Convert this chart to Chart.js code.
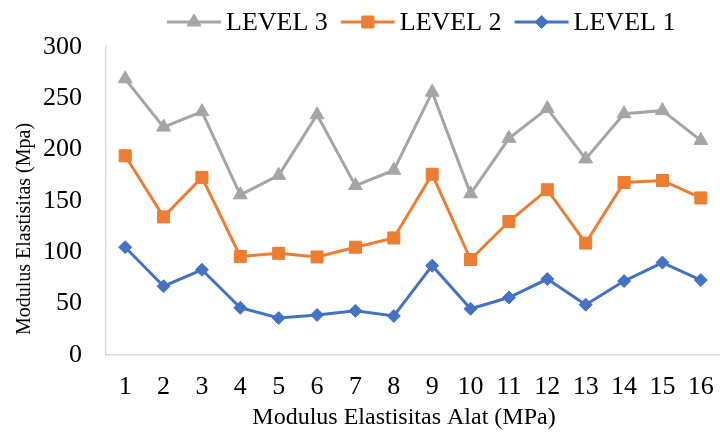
<!DOCTYPE html>
<html>
<head>
<meta charset="utf-8">
<script src="https://cdn.jsdelivr.net/npm/chart.js@4/dist/chart.umd.min.js"></script>
<style>
  html, body { margin: 0; padding: 0; background: #ffffff; }
  #wrap { width: 720px; height: 432px; position: relative; }
</style>
</head>
<body>
<div id="wrap"><canvas id="chart"></canvas></div>
<script>
// Test points along the x axis
const categories = ['1', '2', '3', '4', '5', '6', '7', '8', '9', '10', '11', '12', '13', '14', '15', '16'];

// Modulus values per level (MPa)
const level3 = [269, 222, 237, 156, 175, 234, 165, 180, 256, 157, 211, 240, 191, 235, 238, 209];
const level2 = [194, 134.5, 173, 96, 99, 95.5, 105, 114, 176, 93, 130, 161, 109, 168, 170, 153];
const level1 = [105, 67, 83, 46, 36, 39, 43, 38, 87, 45, 56, 74, 49, 72, 90, 73];

// Y axis tick values
const yTicks = [0, 50, 100, 150, 200, 250, 300];

const seriesNames = ['LEVEL 3', 'LEVEL 2', 'LEVEL 1'];
const xTitle = 'Modulus Elastisitas Alat (MPa)';
const yTitle = 'Modulus Elastisitas (Mpa)';

const SERIF = '"Liberation Serif", "Times New Roman", serif';
const colors = { l3: '#A5A5A5', l2: '#ED7D31', l1: '#4472C4' };

function lineSet(label, data, color, style, radius) {
  return {
    label, data,
    borderColor: color,
    backgroundColor: color,
    borderWidth: 3,
    pointStyle: style,
    pointRadius: radius,
    pointHoverRadius: radius,
    pointBorderWidth: 1,
    pointBorderColor: color,
    pointBackgroundColor: color,
    tension: 0,
    fill: false
  };
}

const datasets = [
  lineSet(seriesNames[0], level3, colors.l3, 'triangle', 8),
  lineSet(seriesNames[1], level2, colors.l2, 'rect', 8.5),
  lineSet(seriesNames[2], level1, colors.l1, 'rectRot', 6.5)
];

// Legend row and both axis titles, drawn on the canvas
const extrasPlugin = {
  id: 'extras',
  afterDraw(chart) {
    const ctx = chart.ctx;
    ctx.save();
    // legend
    ctx.font = '26px ' + SERIF;
    ctx.textBaseline = 'middle';
    ctx.textAlign = 'left';
    let x = 167;
    const y = 22;
    chart.data.datasets.forEach(ds => {
      ctx.strokeStyle = ds.borderColor;
      ctx.lineWidth = 3;
      ctx.beginPath();
      ctx.moveTo(x, y);
      ctx.lineTo(x + 54, y);
      ctx.stroke();
      ctx.fillStyle = ds.pointBackgroundColor;
      ctx.lineWidth = 1;
      Chart.helpers.drawPoint(ctx, {
        pointStyle: ds.pointStyle,
        radius: ds.pointRadius,
        borderWidth: 1,
        rotation: 0
      }, x + 27, y);
      ctx.fillStyle = '#000000';
      ctx.fillText(ds.label, x + 59, y + 1);
      x += 59 + ctx.measureText(ds.label).width + 13;
    });
    // horizontal axis title
    ctx.fillStyle = '#000000';
    ctx.font = '24px ' + SERIF;
    ctx.textAlign = 'center';
    ctx.textBaseline = 'alphabetic';
    ctx.fillText(xTitle, 404, 424);
    // vertical axis title
    ctx.translate(30, 229);
    ctx.rotate(-Math.PI / 2);
    ctx.font = '20px ' + SERIF;
    ctx.fillText(yTitle, 0, 0);
    ctx.restore();
  }
};

new Chart(document.getElementById('chart'), {
  type: 'line',
  data: { labels: categories, datasets },
  options: {
    responsive: true,
    maintainAspectRatio: false,
    animation: false,
    layout: { autoPadding: false, padding: { top: 47, right: 0, bottom: 0, left: 0 } },
    plugins: {
      legend: { display: false },
      tooltip: { enabled: false }
    },
    scales: {
      x: {
        offset: true,
        grid: { display: false, drawTicks: false },
        border: { display: true, color: '#D9D9D9', width: 1.5 },
        ticks: { color: '#000000', font: { family: SERIF, size: 26 }, padding: 17, maxRotation: 0, autoSkip: false },
        afterFit(scale) {
          scale.height = 77;
          scale.paddingLeft = 0;
          scale.paddingRight = 0;
        }
      },
      y: {
        min: 0,
        max: 300,
        afterBuildTicks(scale) { scale.ticks = yTicks.map(v => ({ value: v })); },
        grid: { display: false, drawTicks: false },
        border: { display: true, color: '#D9D9D9', width: 1.5 },
        ticks: { color: '#000000', font: { family: SERIF, size: 26 }, padding: 24 },
        afterFit(scale) {
          scale.width = 106;
          scale.paddingTop = 0;
          scale.paddingBottom = 0;
        }
      }
    }
  },
  plugins: [extrasPlugin]
});
</script>
</body>
</html>
